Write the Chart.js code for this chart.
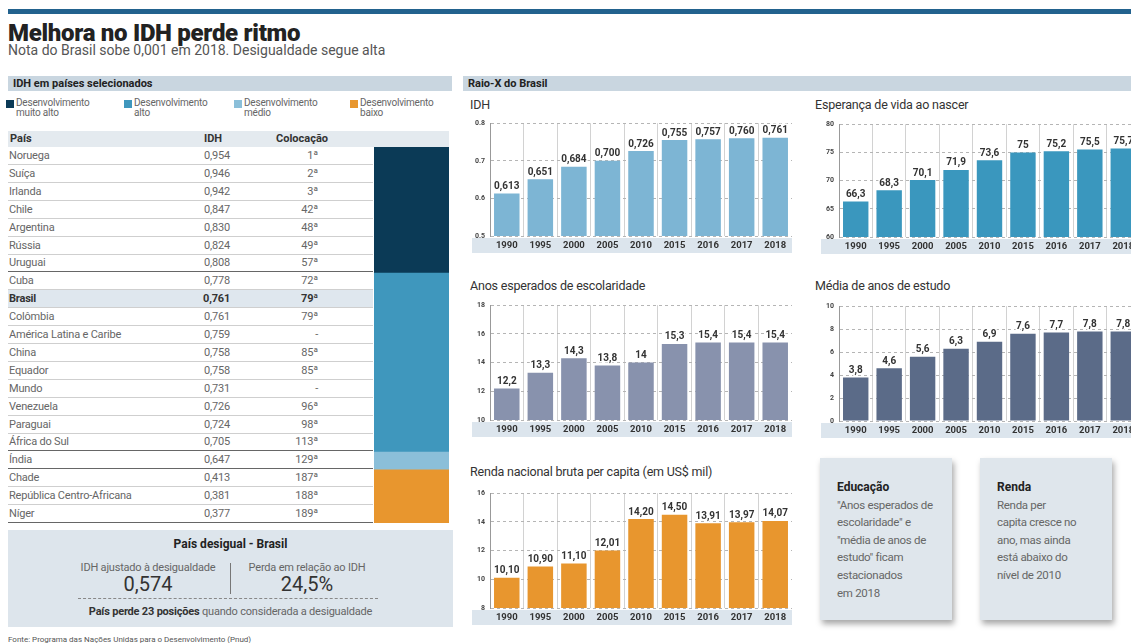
<!DOCTYPE html>
<html lang="pt-BR">
<head>
<meta charset="utf-8">
<script src="https://cdn.jsdelivr.net/npm/chart.js@4.4.1/dist/chart.umd.min.js"></script>
<style>
  body { margin: 0; width: 1131px; height: 643px; overflow: hidden; background: #fff; position: relative;
         font-family: "Roboto", sans-serif; color: #555; }
  .abs { position: absolute; }
  .regua { left: 8px; top: 9px; width: 1123px; height: 5px; background: #22628e; }
  .titulo { left: 8px; top: 19px; font: 900 24px "Roboto", sans-serif; color: #222; letter-spacing: -0.3px; }
  .subtitulo { left: 8px; top: 42px; font-size: 14px; color: #555; }
  .faixa { height: 15px; background: #c9d6e0; font: bold 11px "Roboto", sans-serif; color: #222; line-height: 15px; padding-left: 5px; box-sizing: border-box; }
  .leg { font-size: 10px; line-height: 10px; color: #666; letter-spacing: -0.2px; }
  .leg i { position: absolute; left: -10px; top: 2px; width: 8px; height: 8px; }
  .linha { left: 8px; width: 365px; height: 18px; border-bottom: 1px solid #cfcfcf; box-sizing: border-box; font-size: 11px; line-height: 17px; color: #666; letter-spacing: -0.2px; }
  .linha span { position: absolute; }
  .cab { left: 8px; top: 131px; width: 441px; height: 16px; background: #e4eaef; font: bold 11px "Roboto", sans-serif; color: #333; line-height: 16px; }
  .cab span { position: absolute; }
  .graf { position: absolute; }
  .tgraf { font-size: 12.5px; color: #333; letter-spacing: -0.2px; }
  .caixa { background: #dfe6ec; box-shadow: 2px 4px 6px rgba(0,0,0,0.35); font-size: 11.5px; line-height: 17.6px; color: #666; padding: 21px 0 0 17px; box-sizing: border-box; white-space: nowrap; letter-spacing: -0.3px; }
  .caixa b { color: #222; font-size: 12px; letter-spacing: 0; }
</style>
</head>
<body>
<div class="abs regua"></div>
<div class="abs titulo">Melhora no IDH perde ritmo</div>
<div class="abs subtitulo">Nota do Brasil sobe 0,001 em 2018. Desigualdade segue alta</div>

<!-- painel esquerdo -->
<div class="abs faixa" style="left:8px;top:76px;width:444px;">IDH em países selecionados</div>
<div id="legenda"></div>
<div class="abs cab">
  <span style="left:2px">País</span>
  <span style="left:196px">IDH</span>
  <span style="left:268px">Colocação</span>
</div>
<div id="tabela"></div>
<div class="graf" style="left:374px;top:147px;width:75px;height:376px;"><canvas id="faixasGrupo"></canvas></div>

<div class="abs" style="left:8px;top:530px;width:445px;height:97px;background:#dde5ec;"></div>
<div class="abs" style="left:8px;top:537px;width:445px;text-align:center;font:bold 12px Roboto,sans-serif;color:#222;">País desigual - Brasil</div>
<div class="abs" style="left:68px;top:561px;width:160px;text-align:center;font-size:11px;color:#666;letter-spacing:-0.2px;">IDH ajustado à desigualdade</div>
<div class="abs" style="left:68px;top:572px;width:160px;text-align:center;font:20px Roboto,sans-serif;color:#333;">0,574</div>
<div class="abs" style="left:230px;top:563px;width:1px;height:31px;background:#777;"></div>
<div class="abs" style="left:232px;top:561px;width:150px;text-align:center;font-size:11px;color:#666;letter-spacing:-0.2px;">Perda em relação ao IDH</div>
<div class="abs" style="left:232px;top:572px;width:150px;text-align:center;font:20px Roboto,sans-serif;color:#333;">24,5%</div>
<div class="abs" style="left:78px;top:598px;width:300px;border-top:1px dashed #888;"></div>
<div class="abs" style="left:8px;top:605px;width:445px;text-align:center;font-size:11px;color:#666;letter-spacing:-0.2px;"><b style="color:#333;">País perde 23 posições</b> quando considerada a desigualdade</div>
<div class="abs" style="left:8px;top:635px;font-size:8px;color:#555;">Fonte: Programa das Nações Unidas para o Desenvolvimento (Pnud)</div>

<!-- painel direito -->
<div class="abs faixa" style="left:463px;top:76px;width:668px;">Raio-X do Brasil</div>

<div class="abs tgraf" style="left:470px;top:97px;">IDH</div>
<div class="graf" style="left:466px;top:114px;width:326px;height:140px;"><canvas id="gIdh"></canvas></div>

<div class="abs tgraf" style="left:815px;top:97px;">Esperança de vida ao nascer</div>
<div class="graf" style="left:815px;top:115px;width:325px;height:140px;"><canvas id="gVida"></canvas></div>

<div class="abs tgraf" style="left:470px;top:278px;">Anos esperados de escolaridade</div>
<div class="graf" style="left:466px;top:296px;width:326px;height:142px;"><canvas id="gAnosEsp"></canvas></div>

<div class="abs tgraf" style="left:815px;top:278px;">Média de anos de estudo</div>
<div class="graf" style="left:815px;top:297px;width:325px;height:142px;"><canvas id="gMedia"></canvas></div>

<div class="abs tgraf" style="left:470px;top:464px;">Renda nacional bruta per capita (em US$ mil)</div>
<div class="graf" style="left:466px;top:484px;width:326px;height:142px;"><canvas id="gRenda"></canvas></div>

<div class="abs caixa" style="left:820px;top:458px;width:132px;height:162px;">
  <b>Educação</b><br>"Anos esperados de<br>escolaridade" e<br>"média de anos de<br>estudo" ficam<br>estacionados<br>em 2018
</div>
<div class="abs caixa" style="left:980px;top:458px;width:132px;height:162px;">
  <b>Renda</b><br>Renda per<br>capita cresce no<br>ano, mas ainda<br>está abaixo do<br>nível de 2010
</div>

<script>
// Tabela de países
const paises = ['Noruega', 'Suíça', 'Irlanda', 'Chile', 'Argentina', 'Rússia', 'Uruguai', 'Cuba', 'Brasil', 'Colômbia',
  'América Latina e Caribe', 'China', 'Equador', 'Mundo', 'Venezuela', 'Paraguai', 'África do Sul', 'Índia', 'Chade',
  'República Centro-Africana', 'Níger'];
const idhPaises = ['0,954', '0,946', '0,942', '0,847', '0,830', '0,824', '0,808', '0,778', '0,761', '0,761',
  '0,759', '0,758', '0,758', '0,731', '0,726', '0,724', '0,705', '0,647', '0,413', '0,381', '0,377'];
const colocacoes = ['1ª', '2ª', '3ª', '42ª', '48ª', '49ª', '57ª', '72ª', '79ª', '79ª', '-', '85ª', '85ª', '-', '96ª',
  '98ª', '113ª', '129ª', '187ª', '188ª', '189ª'];
const grupoPais = [0, 0, 0, 0, 0, 0, 0, 1, 1, 1, 1, 1, 1, 1, 1, 1, 1, 2, 3, 3, 3];
const grupos = ['Desenvolvimento muito alto', 'Desenvolvimento alto', 'Desenvolvimento médio', 'Desenvolvimento baixo'];
const legendaLinhas = [['Desenvolvimento', 'muito alto'], ['Desenvolvimento', 'alto'], ['Desenvolvimento', 'médio'], ['Desenvolvimento', 'baixo']];
const coresGrupo = ['#0b3a56', '#3f97bd', '#8bbfd9', '#e8962e'];

// Raio-X do Brasil
const anos = ['1990', '1995', '2000', '2005', '2010', '2015', '2016', '2017', '2018'];
const idhBrasil = [0.613, 0.651, 0.684, 0.700, 0.726, 0.755, 0.757, 0.760, 0.761];
const esperancaVida = [66.3, 68.3, 70.1, 71.9, 73.6, 75, 75.2, 75.5, 75.7];
const anosEsperados = [12.2, 13.3, 14.3, 13.8, 14, 15.3, 15.4, 15.4, 15.4];
const mediaEstudo = [3.8, 4.6, 5.6, 6.3, 6.9, 7.6, 7.7, 7.8, 7.8];
const rendaPerCapita = [10.10, 10.90, 11.10, 12.01, 14.20, 14.50, 13.91, 13.97, 14.07];

// legenda
const legX = [16, 134, 244, 360];
const legenda = document.getElementById('legenda');
legendaLinhas.forEach((l, i) => {
  const d = document.createElement('div');
  d.className = 'abs leg';
  d.style.left = legX[i] + 'px';
  d.style.top = '98px';
  d.innerHTML = '<i style="background:' + coresGrupo[i] + '"></i>' + l[0] + '<br>' + l[1];
  legenda.appendChild(d);
});

// linhas da tabela
const tabela = document.getElementById('tabela');
const altLinha = 17.9;
paises.forEach((p, i) => {
  const d = document.createElement('div');
  d.className = 'abs linha';
  d.style.top = (147 + i * altLinha) + 'px';
  const fimGrupo = i < paises.length - 1 && grupoPais[i + 1] !== grupoPais[i];
  if (fimGrupo || i === paises.length - 1) d.style.borderBottom = '1.5px solid #666';
  if (p === 'Brasil') { d.style.background = '#dfe7ee'; d.style.fontWeight = 'bold'; d.style.color = '#333'; }
  d.innerHTML = '<span style="left:1px">' + p + '</span>' +
    '<span style="right:143px">' + idhPaises[i] + '</span>' +
    '<span style="right:55px">' + colocacoes[i] + '</span>';
  tabela.appendChild(d);
});

// faixa colorida de grupos
const linhasPorGrupo = grupos.map((g, gi) => grupoPais.filter(x => x === gi).length);
new Chart(document.getElementById('faixasGrupo'), {
  type: 'bar',
  data: {
    labels: [''],
    datasets: grupos.map((g, i) => ({
      label: g, data: [linhasPorGrupo[i]], backgroundColor: coresGrupo[i],
      barPercentage: 1, categoryPercentage: 1
    }))
  },
  options: {
    responsive: true, maintainAspectRatio: false, animation: false,
    layout: { padding: 0 },
    plugins: { legend: { display: false }, tooltip: { enabled: false } },
    scales: {
      x: { display: false, stacked: true },
      y: { display: false, stacked: true, reverse: true, min: 0, max: paises.length }
    }
  }
});

// rótulos em cima das barras
const rotulos = {
  id: 'rotulos',
  afterDatasetsDraw(chart, args, opts) {
    const ctx = chart.ctx;
    const meta = chart.getDatasetMeta(0);
    ctx.save();
    ctx.font = 'bold 10px Roboto, sans-serif';
    ctx.textAlign = 'center';
    ctx.textBaseline = 'bottom';
    ctx.lineJoin = 'round';
    ctx.lineWidth = 3;
    ctx.strokeStyle = '#fff';
    ctx.fillStyle = '#333';
    meta.data.forEach((bar, i) => {
      const txt = opts.formato(chart.data.datasets[0].data[i]);
      ctx.strokeText(txt, bar.x, bar.y - 2);
      ctx.fillText(txt, bar.x, bar.y - 2);
    });
    ctx.restore();
  }
};

// faixa azul clara atrás dos anos
const faixaAnos = {
  id: 'faixaAnos',
  beforeDraw(chart) {
    const a = chart.chartArea;
    const ctx = chart.ctx;
    ctx.save();
    ctx.fillStyle = '#dce5ed';
    ctx.fillRect(a.left - 18, a.bottom + 2, a.right - a.left + 18, 15);
    ctx.restore();
  }
};

function virgula(v, casas) {
  return v.toFixed(casas).replace('.', ',');
}
function umaCasa(v) {
  return Number.isInteger(v) ? String(v) : virgula(v, 1);
}

function criarGrafico(id, valores, cor, min, max, passo, formato, fmtEixo) {
  return new Chart(document.getElementById(id), {
    type: 'bar',
    data: {
      labels: anos,
      datasets: [{ data: valores, backgroundColor: cor, barPercentage: 1, categoryPercentage: 0.76 }]
    },
    options: {
      responsive: true, maintainAspectRatio: false, animation: false,
      layout: { padding: { top: 8, right: 0, left: 0, bottom: 0 } },
      plugins: { legend: { display: false }, tooltip: { enabled: false }, rotulos: { formato: formato } },
      scales: {
        x: {
          grid: { color: '#d2d2d2', drawTicks: false },
          border: { display: false },
          ticks: { padding: 4, color: '#333', font: { family: 'Roboto, sans-serif', size: 9.5, weight: 'bold' } },
          afterFit(scale) { scale.height = 18; }
        },
        y: {
          min: min, max: max,
          grid: { color: '#b5b5b5', drawTicks: false },
          border: { color: '#999', dash: [3, 3] },
          ticks: {
            stepSize: passo, padding: 5, color: '#444',
            font: { family: 'Roboto, sans-serif', size: 7, weight: 'bold' },
            callback: fmtEixo
          },
          afterFit(scale) { scale.width = 24; }
        }
      }
    },
    plugins: [rotulos, faixaAnos]
  });
}

criarGrafico('gIdh', idhBrasil, '#7db5d4', 0.5, 0.8, 0.1, v => virgula(v, 3), v => v.toFixed(1));
criarGrafico('gVida', esperancaVida, '#3a97be', 60, 80, 5, umaCasa, v => v);
criarGrafico('gAnosEsp', anosEsperados, '#8892ad', 10, 18, 2, umaCasa, v => v);
criarGrafico('gMedia', mediaEstudo, '#5b6b88', 0, 10, 2, umaCasa, v => v);
criarGrafico('gRenda', rendaPerCapita, '#e8962e', 8, 16, 2, v => virgula(v, 2), v => v);
</script>
</body>
</html>
